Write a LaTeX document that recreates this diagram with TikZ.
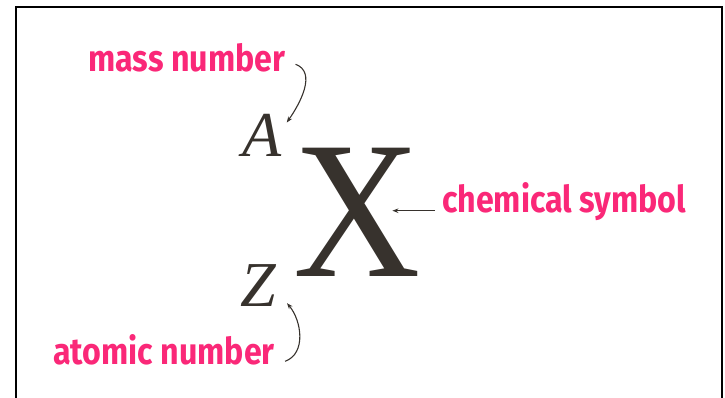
\documentclass[tikz,border=0pt]{standalone}
\usepackage{graphicx}
\usepackage{fontspec}
\setmainfont{Liberation Serif}
\newfontfamily\labelfont[FakeStretch=0.87]{Fira Sans}
\usetikzlibrary{arrows.meta,calc}
\definecolor{tagpink}{RGB}{250,40,120}
\definecolor{inkgray}{RGB}{55,50,45}

\begin{document}
\begin{tikzpicture}[
  x=1pt,y=1pt,
  tag/.style={inner sep=0pt,anchor=base west,text=tagpink,font=\labelfont\bfseries\fontsize{37}{37}\selectfont},
  letter/.style={inner sep=0pt,anchor=base,text=inkgray,font=\itshape\fontsize{64}{64}\selectfont},
  pointer/.style={-{Stealth[length=6pt,width=4.5pt]},line width=1.1pt,draw=inkgray}
]
\useasboundingbox (0,0) rectangle (725,398);
\draw[line width=2.8pt] (16,0) -- (16,391) -- (722,391) -- (722,0);

\node[inner sep=0pt,anchor=base,text=inkgray,font=\fontsize{196}{196}\selectfont] (symX) at (357.5,121) {\scalebox{0.9}[1]{X}};
\node[letter] (massA) at (262,241) {A};
\node[letter] (atomZ) at (258,91) {Z};

\node[tag] (massLabel) at (88,326) {mass number};
\node[tag] (atomLabel) at (53,33) {atomic number};
\node[tag] (chemLabel) at (442,185) {chemical symbol};

\draw[pointer] ([shift={(10pt,-6pt)}]massLabel.east) to[out=-20,in=55] ([shift={(5pt,-8pt)}]massA.north east);
\draw[pointer] ([shift={(10pt,-11pt)}]atomLabel.east) to[out=20,in=-50] ([shift={(11pt,4pt)}]atomZ.south east);
\draw[pointer] ([xshift=-7pt]chemLabel.mid west) -- ($(symX.east |- chemLabel.mid west)+(-29,0)$);
\end{tikzpicture}
\end{document}
